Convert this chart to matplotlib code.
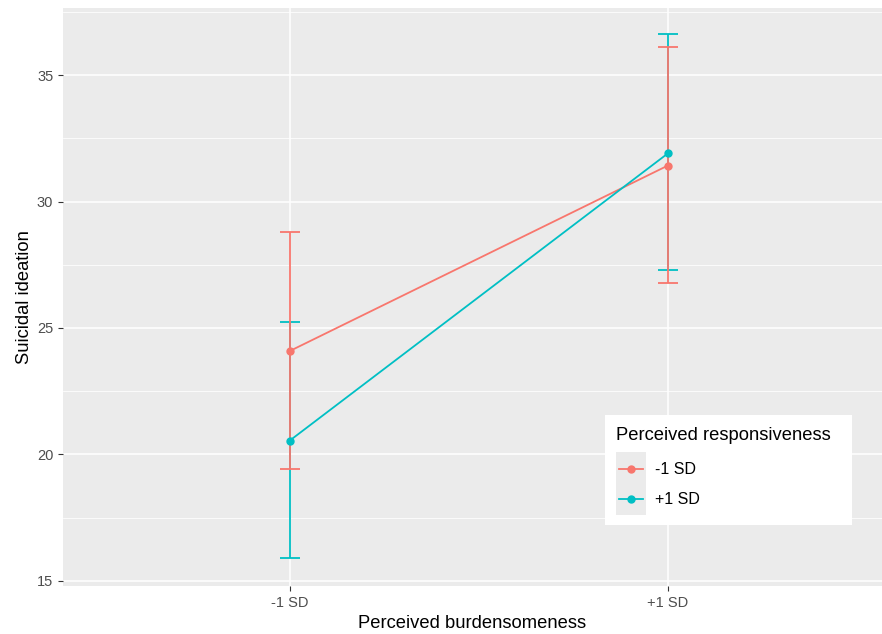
import matplotlib
matplotlib.use("Agg")
import matplotlib.pyplot as plt
from matplotlib.patches import Rectangle
from matplotlib.lines import Line2D

plt.rcParams['font.family'] = ['Liberation Sans', 'DejaVu Sans']

categories = ["-1 SD", "+1 SD"]
groups = ["-1 SD", "+1 SD"]
colors = ["#F8766D", "#00BFC4"]
means = {"-1 SD": [24.09, 31.42], "+1 SD": [20.55, 31.90]}
lower = {"-1 SD": [19.41, 26.78], "+1 SD": [15.89, 27.29]}
upper = {"-1 SD": [28.79, 36.10], "+1 SD": [25.24, 36.62]}
yticks = [15, 20, 25, 30, 35]

W, H = 882, 634
fig = plt.figure(figsize=(W/100, H/100), dpi=100)
fig.patch.set_facecolor("white")
left, right, top, bottom = 63, 882, 8, 586
ax = fig.add_axes([left/W, (H-bottom)/H, (right-left)/W, (bottom-top)/H])
ax.set_facecolor("#EBEBEB")
for s in ax.spines.values():
    s.set_visible(False)

x = [1, 2]
ax.set_xlim(0.4, 0.4 + (right-left)/378)
ax.set_ylim(14.8, 37.65)

for yv in [17.5, 22.5, 27.5, 32.5, 37.5]:
    ax.axhline(yv, color="white", lw=0.55, zorder=0.5)
for yv in yticks:
    ax.axhline(yv, color="white", lw=1.1, zorder=0.6)
for xv in x:
    ax.axvline(xv, color="white", lw=1.1, zorder=0.6)

# error bars (blue first, red on top)
for g, c in [(groups[1], colors[1]), (groups[0], colors[0])]:
    m = means[g]
    yerr = [[m[i]-lower[g][i] for i in range(2)], [upper[g][i]-m[i] for i in range(2)]]
    ax.errorbar(x, m, yerr=yerr, fmt="none", ecolor=c, elinewidth=1.3,
                capsize=7, capthick=1.3, zorder=2)
for g, c in [(groups[0], colors[0]), (groups[1], colors[1])]:
    ax.plot(x, means[g], color=c, lw=1.3, marker="o", ms=5, zorder=3)

ax.set_xticks(x)
ax.set_xticklabels(categories)
ax.set_yticks(yticks)
ax.tick_params(axis="both", colors="#333333", labelcolor="#4D4D4D",
               labelsize=10.5, length=3.5, width=0.8)
ax.set_xlabel("Perceived burdensomeness", fontsize=13.2, color="black", labelpad=4)
ax.set_ylabel("Suicidal ideation", fontsize=13.2, color="black", labelpad=3)

# legend (manual, ggplot style)
def fx(px):
    return px / W
def fy(py):
    return (H - py) / H

fig.add_artist(Rectangle((fx(605), fy(525)), fx(852)-fx(605), fy(415)-fy(525),
                         transform=fig.transFigure, facecolor="white", edgecolor="none", zorder=5))
fig.add_artist(Rectangle((fx(616), fy(515)), fx(646)-fx(616), fy(452)-fy(515),
                         transform=fig.transFigure, facecolor="#EBEBEB", edgecolor="none", zorder=6))
fig.text(fx(616), fy(435), "Perceived responsiveness", fontsize=13.2, va="center", ha="left", zorder=7)
for i, (g, c) in enumerate(zip(groups, colors)):
    yy = fy(469 + i*30)
    fig.add_artist(Line2D([fx(619), fx(643)], [yy, yy], transform=fig.transFigure,
                          color=c, lw=1.3, zorder=7))
    fig.add_artist(Line2D([fx(631)], [yy], transform=fig.transFigure, color=c,
                          marker="o", ms=5, lw=0, zorder=7))
    fig.text(fx(655), yy, g, fontsize=11.5, va="center", ha="left", zorder=7)

fig.savefig("out.png", dpi=100)
